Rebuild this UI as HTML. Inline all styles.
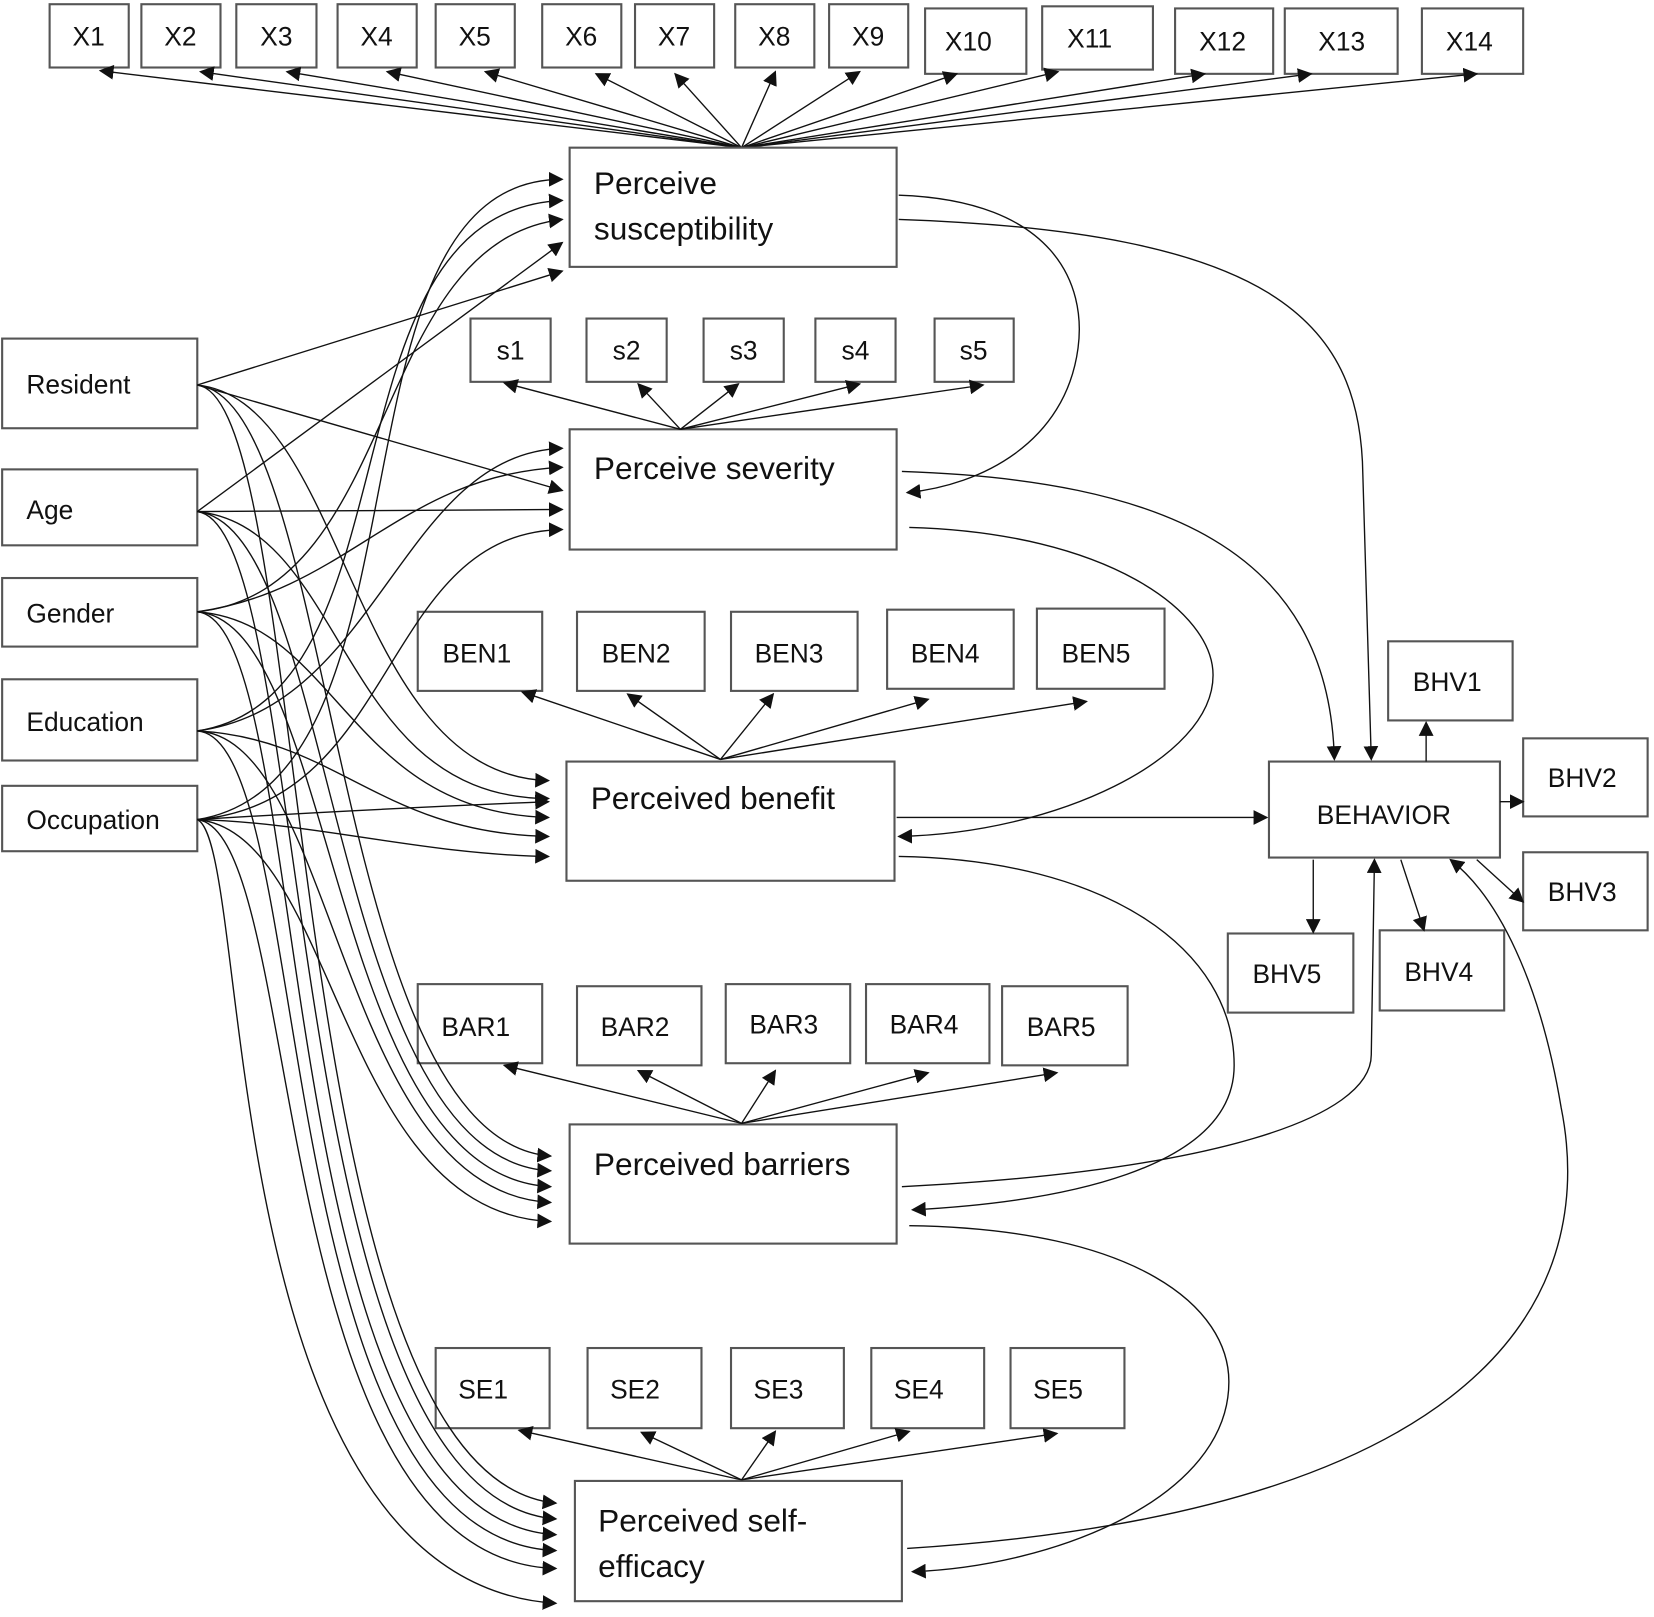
<!DOCTYPE html>
<html><head><meta charset="utf-8"><style>
html,body{margin:0;padding:0;background:#fff;}
svg{display:block;}
text{font-family:"Liberation Sans",sans-serif;fill:#111;}
.b{fill:#fff;stroke:#555;stroke-width:2;}
.l{fill:none;stroke:#111;stroke-width:1.3;marker-end:url(#a);}
.n{fill:none;stroke:#111;stroke-width:1.3;}
.s{font-size:25px;}
.m{font-size:30px;}
</style></head><body>
<svg width="1654" height="1617" viewBox="0 0 1568 1533" xmlns="http://www.w3.org/2000/svg">
<defs><marker id="a" viewBox="0 0 10 10" refX="9" refY="5" markerWidth="14" markerHeight="14" markerUnits="userSpaceOnUse" orient="auto"><path d="M0,0 L10,5 L0,10 z" fill="#111"/></marker>
<marker id="st" viewBox="0 0 10 10" refX="1" refY="5" markerWidth="14" markerHeight="14" markerUnits="userSpaceOnUse" orient="auto"><path d="M10,0 L0,5 L10,10 z" fill="#111"/></marker></defs>

<!-- X boxes -->
<g class="s" text-anchor="middle">
<rect class="b" x="47" y="4" width="75" height="60"/><text x="84" y="43">X1</text>
<rect class="b" x="134" y="4" width="75" height="60"/><text x="171" y="43">X2</text>
<rect class="b" x="224" y="4" width="76" height="60"/><text x="262" y="43">X3</text>
<rect class="b" x="320" y="4" width="75" height="60"/><text x="357" y="43">X4</text>
<rect class="b" x="413" y="4" width="75" height="60"/><text x="450" y="43">X5</text>
<rect class="b" x="514" y="4" width="75" height="60"/><text x="551" y="43">X6</text>
<rect class="b" x="602" y="4" width="75" height="60"/><text x="639" y="43">X7</text>
<rect class="b" x="697" y="4" width="75" height="60"/><text x="734" y="43">X8</text>
<rect class="b" x="786" y="4" width="75" height="60"/><text x="823" y="43">X9</text>
<rect class="b" x="877" y="8" width="96" height="62"/><text x="918" y="48">X10</text>
<rect class="b" x="988" y="6" width="105" height="60"/><text x="1033" y="45">X11</text>
<rect class="b" x="1114" y="8" width="93" height="62"/><text x="1159" y="48">X12</text>
<rect class="b" x="1218" y="8" width="107" height="62"/><text x="1272" y="48">X13</text>
<rect class="b" x="1348" y="8" width="96" height="62"/><text x="1393" y="48">X14</text>
</g>
<g>
<path class="l" d="M703,140 L95,67"/><path class="l" d="M703,140 L190,68"/><path class="l" d="M703,140 L272,68"/>
<path class="l" d="M703,140 L367,68"/><path class="l" d="M703,140 L460,68"/><path class="l" d="M703,140 L565,70"/>
<path class="l" d="M703,140 L640,70"/><path class="l" d="M703,140 L735,68"/><path class="l" d="M703,140 L815,68"/>
<path class="l" d="M703,140 L907,70"/><path class="l" d="M703,140 L1003,68"/><path class="l" d="M703,140 L1142,70"/>
<path class="l" d="M703,140 L1243,70"/><path class="l" d="M703,140 L1400,70"/>
</g>

<!-- constructs -->
<rect class="b" x="540" y="140" width="310" height="113"/><text class="m" x="563" y="184">Perceive</text><text class="m" x="563" y="227">susceptibility</text>
<rect class="b" x="540" y="407" width="310" height="114"/><text class="m" x="563" y="454">Perceive severity</text>
<rect class="b" x="537" y="722" width="311" height="113"/><text class="m" x="560" y="767">Perceived benefit</text>
<rect class="b" x="540" y="1066" width="310" height="113"/><text class="m" x="563" y="1114">Perceived barriers</text>
<rect class="b" x="545" y="1404" width="310" height="114"/><text class="m" x="567" y="1452">Perceived self-</text><text class="m" x="567" y="1495">efficacy</text>

<!-- s boxes -->
<g class="s" text-anchor="middle">
<rect class="b" x="446" y="302" width="76" height="60"/><text x="484" y="341">s1</text>
<rect class="b" x="556" y="302" width="76" height="60"/><text x="594" y="341">s2</text>
<rect class="b" x="667" y="302" width="76" height="60"/><text x="705" y="341">s3</text>
<rect class="b" x="773" y="302" width="76" height="60"/><text x="811" y="341">s4</text>
<rect class="b" x="886" y="302" width="75" height="60"/><text x="923" y="341">s5</text>

<rect class="b" x="396" y="580" width="118" height="75"/><text x="452" y="628">BEN1</text>
<rect class="b" x="547" y="580" width="121" height="75"/><text x="603" y="628">BEN2</text>
<rect class="b" x="693" y="580" width="120" height="75"/><text x="748" y="628">BEN3</text>
<rect class="b" x="841" y="578" width="120" height="75"/><text x="896" y="628">BEN4</text>
<rect class="b" x="983" y="577" width="121" height="76"/><text x="1039" y="628">BEN5</text>

<rect class="b" x="396" y="933" width="118" height="75"/><text x="451" y="982">BAR1</text>
<rect class="b" x="547" y="935" width="118" height="75"/><text x="602" y="982">BAR2</text>
<rect class="b" x="688" y="933" width="118" height="75"/><text x="743" y="980">BAR3</text>
<rect class="b" x="821" y="933" width="117" height="75"/><text x="876" y="980">BAR4</text>
<rect class="b" x="950" y="935" width="119" height="75"/><text x="1006" y="982">BAR5</text>

<rect class="b" x="413" y="1278" width="108" height="76"/><text x="458" y="1326">SE1</text>
<rect class="b" x="557" y="1278" width="108" height="76"/><text x="602" y="1326">SE2</text>
<rect class="b" x="693" y="1278" width="107" height="76"/><text x="738" y="1326">SE3</text>
<rect class="b" x="826" y="1278" width="107" height="76"/><text x="871" y="1326">SE4</text>
<rect class="b" x="958" y="1278" width="108" height="76"/><text x="1003" y="1326">SE5</text>

<rect class="b" x="1203" y="722" width="219" height="91"/><text x="1312" y="781">BEHAVIOR</text>
<rect class="b" x="1316" y="608" width="118" height="75"/><text x="1372" y="655">BHV1</text>
<rect class="b" x="1444" y="700" width="118" height="74"/><text x="1500" y="746">BHV2</text>
<rect class="b" x="1444" y="808" width="118" height="74"/><text x="1500" y="854">BHV3</text>
<rect class="b" x="1308" y="882" width="118" height="76"/><text x="1364" y="930">BHV4</text>
<rect class="b" x="1164" y="885" width="119" height="75"/><text x="1220" y="932">BHV5</text>
</g>

<g text-anchor="start" class="s">
<rect class="b" x="2" y="321" width="185" height="85"/><text x="25" y="373">Resident</text>
<rect class="b" x="2" y="445" width="185" height="72"/><text x="25" y="492">Age</text>
<rect class="b" x="2" y="548" width="185" height="65"/><text x="25" y="590">Gender</text>
<rect class="b" x="2" y="644" width="185" height="77"/><text x="25" y="693">Education</text>
<rect class="b" x="2" y="745" width="185" height="62"/><text x="25" y="786">Occupation</text>
</g>

<!-- indicator arrows -->
<path class="l" d="M645,407 L478,363"/><path class="l" d="M645,407 L605,364"/><path class="l" d="M645,407 L700,364"/><path class="l" d="M645,407 L815,364"/><path class="l" d="M645,407 L932,365"/>
<path class="l" d="M683,720 L495,656"/><path class="l" d="M683,720 L595,658"/><path class="l" d="M683,720 L733,658"/><path class="l" d="M683,720 L880,663"/><path class="l" d="M683,720 L1030,665"/>
<path class="l" d="M703,1065 L478,1010"/><path class="l" d="M703,1065 L605,1015"/><path class="l" d="M703,1065 L735,1015"/><path class="l" d="M703,1065 L880,1017"/><path class="l" d="M703,1065 L1002,1017"/>
<path class="l" d="M703,1403 L492,1356"/><path class="l" d="M703,1403 L608,1358"/><path class="l" d="M703,1403 L735,1357"/><path class="l" d="M703,1403 L862,1357"/><path class="l" d="M703,1403 L1002,1359"/>

<!-- behavior indicators -->
<path class="l" d="M1352,722 L1352,685"/><path class="l" d="M1422,760 L1444,760"/><path class="l" d="M1400,815 L1444,855"/>
<path class="l" d="M1328,815 L1350,882"/><path class="l" d="M1245,815 L1245,884"/>

<!-- structural -->
<path class="l" d="M850,775 L1201,775"/>
<path class="l" d="M852,208 C1200,220 1290,300 1292,450 L1300,720"/>
<path class="l" d="M855,447 C1100,455 1260,520 1265,720"/>
<path class="l" d="M855,1125 C1150,1110 1300,1060 1300,1000 L1303,815"/>
<path class="l" d="M860,1468 C1450,1430 1510,1200 1480,1050 C1460,930 1420,850 1375,815"/>
<path class="l" d="M852,185 C1000,190 1030,270 1022,330 C1010,420 930,460 860,467"/>
<path class="l" d="M862,500 C1050,505 1150,580 1150,640 C1150,720 1000,790 852,793"/>
<path class="l" d="M852,812 C1050,815 1170,900 1170,1010 C1170,1110 1000,1140 865,1147"/>
<path class="l" d="M862,1162 C1080,1165 1165,1240 1165,1310 C1165,1420 1000,1485 865,1490"/>

<!-- covariates to susceptibility -->
<path class="l" d="M187,365 L533,257"/>
<path class="l" d="M187,485 L533,230"/>
<path class="l" d="M187,580 C380,560 350,230 533,208"/>
<path class="l" d="M187,693 C400,660 300,200 533,190"/>
<path class="l" d="M187,777 C420,740 300,170 533,170"/>
<!-- to severity -->
<path class="l" d="M187,365 L533,465"/>
<path class="l" d="M187,485 L533,483"/>
<path class="l" d="M187,580 C330,560 380,450 533,443"/>
<path class="l" d="M187,693 C360,670 380,430 533,425"/>
<path class="l" d="M187,777 C380,760 360,505 533,502"/>
<!-- to benefit -->
<path class="l" d="M187,365 C330,380 330,735 520,740"/>
<path class="l" d="M187,485 C330,500 320,757 520,757"/>
<path class="l" d="M187,580 C320,590 330,770 520,775"/>
<path class="l" d="M187,693 C320,700 360,790 520,793"/>
<path class="l" d="M187,777 C300,770 400,765 520,760"/>
<path class="l" d="M187,777 C300,780 400,810 520,812"/>
<!-- to barriers -->
<path class="l" d="M187,365 C320,380 310,1080 522,1096"/>
<path class="l" d="M187,485 C320,500 310,1100 522,1110"/>
<path class="l" d="M187,580 C320,590 310,1115 522,1125"/>
<path class="l" d="M187,693 C320,700 320,1130 522,1140"/>
<path class="l" d="M187,777 C320,790 320,1150 522,1158"/>
<!-- to self-efficacy -->
<path class="l" d="M187,365 C300,380 260,1400 527,1425"/>
<path class="l" d="M187,485 C300,500 260,1420 527,1440"/>
<path class="l" d="M187,580 C300,590 250,1440 527,1455"/>
<path class="l" d="M187,693 C300,700 250,1460 527,1470"/>
<path class="l" d="M187,777 C290,790 250,1480 527,1487"/>
<path class="l" d="M187,777 C240,800 200,1500 527,1520"/>
</svg>
</body></html>
